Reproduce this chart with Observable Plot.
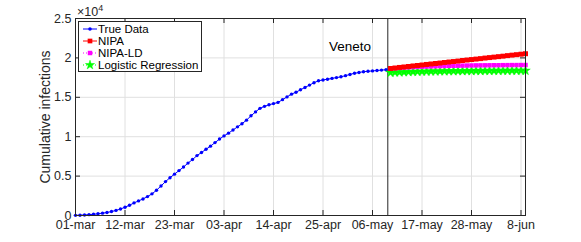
<!DOCTYPE html>
<html><head><meta charset="utf-8">
<script src="https://cdn.jsdelivr.net/npm/d3@7"></script>
<script src="https://cdn.jsdelivr.net/npm/@observablehq/plot@0.6"></script>
<style>body{margin:0;background:#fff}#chart{width:581px;height:242px}</style>
</head><body><div id="chart"></div>
<script>
// ---- data ----
const tickDays = [0, 11, 22, 33, 44, 55, 66, 77, 88, 99];
const tickLabels = ["01-mar","12-mar","23-mar","03-apr","14-apr","25-apr","06-may","17-may","28-may","8-jun"];
const yTicks = [0, 5000, 10000, 15000, 20000, 25000];
const seriesNames = ["True Data", "NIPA", "NIPA-LD", "Logistic Regression"];
const regionName = "Veneto";
// cumulative infections, one value per day from 01-mar
const trueData = [20,40,70,110,160,220,300,380,500,650,820,1050,1300,1600,1850,2100,2400,2750,3200,3750,
  4300,4800,5250,5700,6150,6650,7100,7600,8000,8400,8800,9250,9700,10100,10450,10850,11250,11650,12100,12650,
  13150,13600,13850,14050,14200,14350,14700,15050,15400,15650,15950,16250,16550,16850,17100,17200,17300,17400,17500,17600,
  17750,17900,18050,18150,18250,18300,18350,18400,18450,18500];
const predStartDay = 70;   // first predicted day (10-may)
const splitDay = 69.4;     // end of observed data
const nipa = [18660,18720,18790,18850,18910,18980,19040,19100,19170,19230,19290,19350,19420,19480,19540,19600,
  19670,19730,19790,19850,19910,19980,20040,20100,20160,20220,20290,20350,20410,20470,20530];
const nipaLD = [18650,18690,18730,18770,18800,18830,18860,18880,18900,18920,18940,18960,18975,18990,19000,19010,
  19020,19030,19040,19050,19055,19060,19065,19070,19075,19080,19085,19090,19092,19095,19100];
const logistic = [18130,18160,18180,18200,18220,18240,18255,18270,18280,18290,18300,18310,18320,18325,18330,18335,
  18340,18345,18350,18355,18360,18365,18370,18372,18375,18378,18380,18383,18386,18388,18390];

const trueRows = trueData.map((v, i) => ({day: i, v}));
const predRows = arr => arr.map((v, i) => ({day: predStartDay + i, v}));
const nipaRows = predRows(nipa), ldRows = predRows(nipaLD), logRows = predRows(logistic);

const W = 581, H = 242, ml = 75, mr = 56, mt = 18, mb = 27;
const fw = W - ml - mr, fh = H - mt - mb;
const ink = "#262626", gridC = "#e0e0e0";
const font = "'Liberation Sans', Arial, Helvetica, sans-serif";
const cBlue = "#0000ff", cRed = "#ff0000", cMag = "#ff00ff", cGreen = "#00ff00";

const chart = Plot.plot({
  width: W, height: H, marginLeft: ml, marginRight: mr, marginTop: mt, marginBottom: mb,
  style: {fontFamily: font, fontSize: "12.5px", color: ink, background: "#fff", overflow: "visible"},
  x: {domain: [0, 100], axis: null},
  y: {domain: [0, 25000], axis: null},
  marks: [
    Plot.gridX(tickDays, {stroke: gridC, strokeOpacity: 1}),
    Plot.gridY(yTicks, {stroke: gridC, strokeOpacity: 1}),
    Plot.axisX(tickDays, {anchor: "bottom", tickSize: 0, tickPadding: 5, label: null, fill: ink,
      tickFormat: d => tickLabels[tickDays.indexOf(d)]}),
    Plot.axisY(yTicks, {anchor: "left", tickSize: 0, tickPadding: 4, label: null, fill: ink,
      tickFormat: d => String(d / 10000)}),
    Plot.tickX(tickDays, {x: d => d, stroke: ink, insetTop: fh - 5}),
    Plot.tickX(tickDays, {x: d => d, stroke: ink, insetBottom: fh - 5}),
    Plot.tickY(yTicks, {y: d => d, stroke: ink, insetRight: fw - 5}),
    Plot.tickY(yTicks, {y: d => d, stroke: ink, insetLeft: fw - 5}),
    Plot.ruleX([splitDay], {stroke: ink, strokeWidth: 1}),
    Plot.line(trueRows, {x: "day", y: "v", stroke: cBlue, strokeWidth: 1}),
    Plot.dot(trueRows, {x: "day", y: "v", r: 1.7, fill: cBlue}),
    Plot.line(logRows, {x: "day", y: "v", stroke: cGreen, strokeDasharray: "1,2"}),
    Plot.dot(logRows, {x: "day", y: "v", symbol: "star", r: 3, fill: cGreen, stroke: cGreen, strokeWidth: 0.5}),
    Plot.line(ldRows, {x: "day", y: "v", stroke: cMag, strokeDasharray: "1,2"}),
    Plot.dot(ldRows, {x: "day", y: "v", symbol: "square", r: 2.5, fill: cMag}),
    Plot.line(nipaRows, {x: "day", y: "v", stroke: cRed}),
    Plot.dot(nipaRows, {x: "day", y: "v", symbol: "square", r: 2.8, fill: cRed}),
    Plot.text([regionName], {x: 61, y: 21450, text: d => d, fontSize: 13.5, fill: "#000"}),
    Plot.frame({stroke: ink})
  ]
});
document.getElementById("chart").appendChild(chart);

const svg = d3.select(chart);
// exponent label
const ex = svg.append("text").attr("x", 77).attr("y", 15.5).attr("font-family", font)
  .attr("text-anchor", "start").attr("font-size", "12.5px").attr("fill", ink);
ex.append("tspan").text("\u00d710");
ex.append("tspan").attr("font-size", "9px").attr("dy", -5).text("4");
// y label
svg.append("text").attr("transform", "translate(50,117) rotate(-90)").attr("text-anchor", "middle")
  .attr("font-family", font).attr("font-size", "14px").attr("fill", ink).text("Cumulative infections");
// legend
const lg = svg.append("g").attr("font-family", font).attr("font-size", "11.5px").attr("text-anchor", "start");
lg.append("rect").attr("x", 78.5).attr("y", 21.5).attr("width", 123).attr("height", 50)
  .attr("fill", "#fff").attr("stroke", ink);
const legStyle = [
  {c: cBlue, dash: null, sym: d3.symbolCircle, size: 10, stroke: false},
  {c: cRed, dash: null, sym: d3.symbolSquare, size: 22, stroke: false},
  {c: cMag, dash: "1,2", sym: d3.symbolSquare, size: 20, stroke: false},
  {c: cGreen, dash: "1,2", sym: d3.symbolStar, size: 26, stroke: true}
];
seriesNames.forEach((name, i) => {
  const y = 29 + i * 12, s = legStyle[i];
  lg.append("line").attr("x1", 83).attr("x2", 97).attr("y1", y).attr("y2", y)
    .attr("stroke", s.c).attr("stroke-width", 1).attr("stroke-dasharray", s.dash);
  lg.append("path").attr("transform", `translate(90,${y})`).attr("d", d3.symbol(s.sym, s.size)())
    .attr("fill", s.c).attr("stroke", s.stroke ? s.c : null).attr("stroke-width", 0.5);
  lg.append("text").attr("x", 98).attr("y", y).attr("dy", "0.35em").attr("fill", "#000").text(name);
});
</script>
</body></html>
